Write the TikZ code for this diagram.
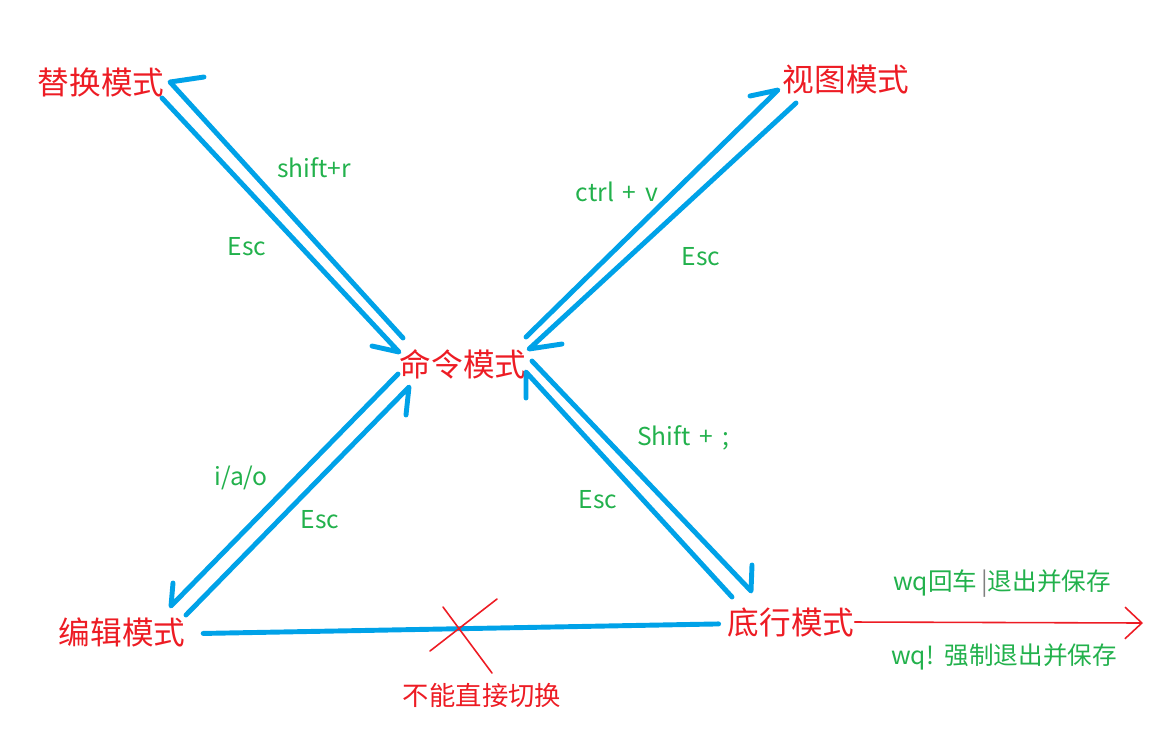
\documentclass[tikz,border=0pt]{standalone}
\usepackage{fontspec}
\setmainfont[WordSpace=1.6]{Noto Sans CJK SC}
\usetikzlibrary{arrows.meta}
\definecolor{modered}{RGB}{237,28,36}
\definecolor{keygreen}{RGB}{34,177,76}
\definecolor{penblue}{RGB}{0,162,232}

\begin{document}
\begin{tikzpicture}[x=0.02cm,y=-0.02cm,
    mode/.style={text=modered,font=\fontsize{18}{20}\selectfont,inner sep=0pt},
    note/.style={text=modered,font=\fontsize{15}{17}\selectfont,inner sep=0pt},
    key/.style={text=keygreen,font=\fontsize{14}{16}\selectfont,inner sep=0pt},
    pen/.style={draw=penblue,line width=2.8pt,line cap=round,line join=round},
    redpen/.style={draw=modered,line width=0.9pt,line cap=round,line join=round},
  ]
  \useasboundingbox (0,0) rectangle (1169,728);

  \node[mode] (replace) at (101,82)  {替换模式};
  \node[mode] (visual)  at (846,80)  {视图模式};
  \node[mode] (cmd)     at (463,364) {命令模式};
  \node[mode] (edit)    at (122,632) {编辑模式};
  \node[mode] (bottom)  at (791,622) {底行模式};

  % hand-drawn arrow ends
  \coordinate (rep-in)   at (170,82);
  \coordinate (rep-barb) at (204,77);
  \coordinate (rep-out)  at (162,98);
  \coordinate (cmd-a)    at (403,338);
  \coordinate (cmd-ain)  at (399,352);
  \coordinate (cmd-abar) at (372,346);
  \coordinate (vis-in)   at (778,90);
  \coordinate (vis-barb) at (750,96);
  \coordinate (vis-out)  at (796,103);
  \coordinate (cmd-b)    at (526,337);
  \coordinate (cmd-bin)  at (529,349);
  \coordinate (cmd-bbar) at (562,344);
  \coordinate (edt-in)   at (171,606);
  \coordinate (edt-barb) at (173,583);
  \coordinate (edt-out)  at (186,615);
  \coordinate (cmd-c)    at (398,374);
  \coordinate (cmd-cin)  at (409,387);
  \coordinate (cmd-cbar) at (406,415);
  \coordinate (bot-in)   at (751,591);
  \coordinate (bot-barb) at (752,565);
  \coordinate (bot-out)  at (732,597);
  \coordinate (cmd-d)    at (532,361);
  \coordinate (cmd-din)  at (526,372);
  \coordinate (cmd-dbar) at (526,398);
  \coordinate (exit)     at (1143,623);

  \draw[pen] (cmd-a) -- (rep-in) -- (rep-barb);
  \draw[pen] (rep-out) -- (cmd-ain) -- (cmd-abar);
  \draw[pen] (cmd-b) -- (vis-in) -- (vis-barb);
  \draw[pen] (vis-out) -- (cmd-bin) -- (cmd-bbar);
  \draw[pen] (cmd-c) -- (edt-in) -- (edt-barb);
  \draw[pen] (edt-out) -- (cmd-cin) -- (cmd-cbar);
  \draw[pen] (cmd-d) -- (bot-in) -- (bot-barb);
  \draw[pen] (bot-out) -- (cmd-din) -- (cmd-dbar);
  \draw[pen,shorten <=10pt,shorten >=5pt] ([yshift=-1pt]edit.east) -- ([yshift=-1pt]bottom.west);

  \node[key] at (314,168) {shift+r};
  \node[key] at (247,247) {Esc};
  \node[key] at (617,192) {ctrl + v};
  \node[key] at (701,257) {Esc};
  \node[key] at (241,478) {i/a/o};
  \node[key] at (320,520) {Esc};
  \node[key] at (683,438) {Shift + ;};
  \node[key] at (598,500) {Esc};

  % no direct switch
  \coordinate (x1a) at (430,651);
  \coordinate (x1b) at (497,599);
  \coordinate (x2a) at (443,607);
  \coordinate (x2b) at (492,673);
  \draw[redpen] (x1a) -- (x1b);
  \draw[redpen] (x2a) -- (x2b);
  \node[note] (nodirect) at (482,695) {不能直接切换};

  % save and quit
  \draw[redpen,-{Straight Barb[length=9.6pt,width=18pt]}] (bottom.east) -- (exit);
  \node[key] (wq)  at (1002,584) {wq回车\,{\color{gray}|}退出并保存};
  \node[key] (wqf) at (1004,657) {wq! 强制退出并保存};
\end{tikzpicture}
\end{document}
